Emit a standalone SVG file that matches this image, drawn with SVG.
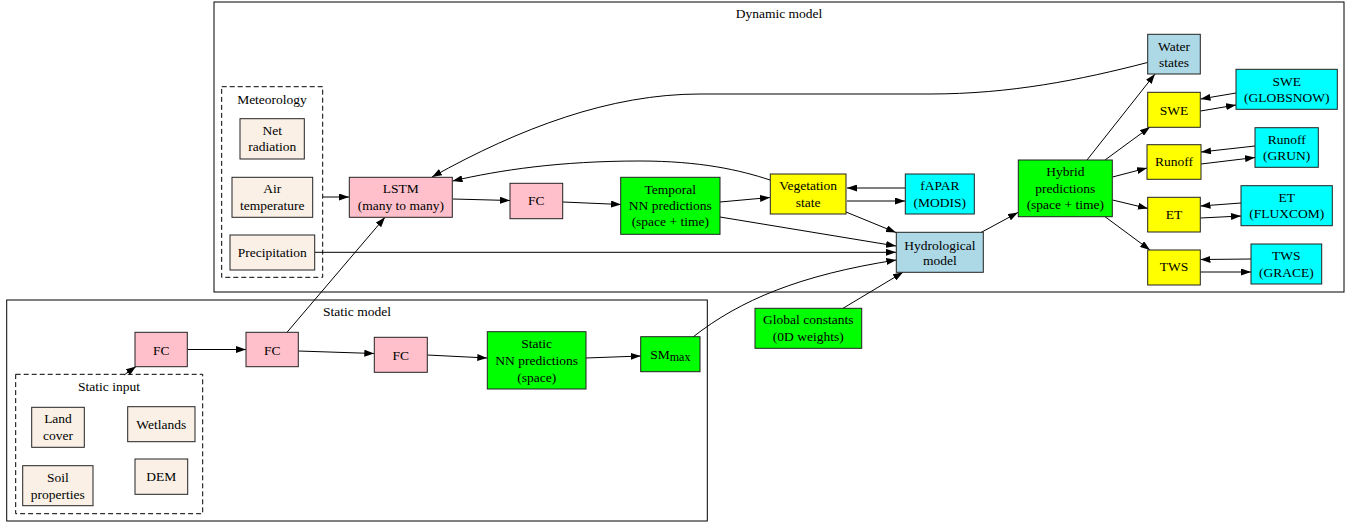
<svg xmlns="http://www.w3.org/2000/svg" width="1352" height="523" viewBox="0 0 1352 523">
<defs>
<style>
text{font-family:"Liberation Serif","Times New Roman",serif;font-size:13.5px;fill:#000;text-anchor:middle}
.n{stroke:#222;stroke-width:1}
.cl{fill:none;stroke:#000;stroke-width:1}
.dash{fill:none;stroke:#000;stroke-width:1;stroke-dasharray:5,3}
.e{fill:none;stroke:#000;stroke-width:1;marker-end:url(#ah)}
.pink{fill:#FFC0CB}.linen{fill:#FAF0E6}.lime{fill:#00FF00}.yel{fill:#FFFF00}.cyan{fill:#00FFFF}.lb{fill:#ADD8E6}
</style>
<marker id="ah" viewBox="0 0 10 7" refX="10" refY="3.5" markerWidth="10" markerHeight="7" markerUnits="userSpaceOnUse" orient="auto">
<path d="M0,0 L10,3.5 L0,7 z" fill="#000"/>
</marker>
</defs>
<rect width="1352" height="523" fill="#fff"/>

<g id="clusters">
<rect class="cl" x="214" y="2" width="1130" height="290"/>
<text x="779" y="18">Dynamic model</text>
<rect class="dash" x="221.7" y="86.7" width="101" height="190.6"/>
<text x="272" y="104">Meteorology</text>
<rect class="cl" x="6.7" y="300" width="700.6" height="221"/>
<text x="357" y="316">Static model</text>
<rect class="dash" x="15.7" y="374.3" width="187" height="139.4"/>
<text x="109" y="391">Static input</text>
</g>

<g id="connectors">
<path class="e" d="M323,197 L349,197"/>
<path class="e" d="M453,199 L510,200.5"/>
<path class="e" d="M563,202 L621,204.5"/>
<path class="e" d="M720,202 L770,197.5"/>
<path class="e" d="M720,217 L896,246"/>
<path class="e" d="M315,252.3 L896,252.3"/>
<path class="e" d="M846,212 L896,232.5"/>
<path class="e" d="M905,188 L847,188"/>
<path class="e" d="M847,201 L905,201"/>
<path class="e" d="M770,180 C740,170 700,161 640,161 C560,161 500,170 452.5,181"/>
<path class="e" d="M1147.5,62.5 C1080,80 1010,94 930,94 L700,94 C610,94 520,128 432,177"/>
<path class="e" d="M981,232.5 L1018,212.5"/>
<path class="e" d="M1087,160 L1155,74"/>
<path class="e" d="M1105,160 L1150,127"/>
<path class="e" d="M1112.5,177 L1147,168"/>
<path class="e" d="M1112.5,200 L1148,208.5"/>
<path class="e" d="M1105,216.7 L1150,250"/>
<path class="e" d="M1236,93 L1200.5,99"/>
<path class="e" d="M1200.5,111 L1236,105"/>
<path class="e" d="M1255,146 L1201,152"/>
<path class="e" d="M1201,164 L1255,157.5"/>
<path class="e" d="M1241,203 L1200.5,206"/>
<path class="e" d="M1200.5,218 L1241,216"/>
<path class="e" d="M1251,259 L1200.5,259.5"/>
<path class="e" d="M1200.5,272 L1251,272"/>
<path class="e" d="M124,375 L136,366.5"/>
<path class="e" d="M187.3,349.5 L246,349.5"/>
<path class="e" d="M298.3,351 L374.3,353.5"/>
<path class="e" d="M287,332.3 L385,217.3"/>
<path class="e" d="M427.3,355 L487.3,358"/>
<path class="e" d="M586,358 L640.7,356"/>
<path class="e" d="M693,337 C740,300 800,275 896.3,260"/>
<path class="e" d="M843,308.3 L903,272.3"/>
</g>

<g id="net_radiation"><rect class="n linen" x="240" y="118.7" width="64.3" height="40.3"/><text x="272.2" y="134.5">Net</text><text x="272.2" y="151">radiation</text></g>
<g id="air_temperature"><rect class="n linen" x="232" y="177.3" width="80.7" height="40"/><text x="272.3" y="193">Air</text><text x="272.3" y="210">temperature</text></g>
<g id="precipitation"><rect class="n linen" x="230" y="235" width="84.7" height="35"/><text x="272.3" y="257">Precipitation</text></g>
<g id="lstm"><rect class="n pink" x="349.3" y="177.3" width="103" height="40"/><text x="400.8" y="193">LSTM</text><text x="400.8" y="210">(many to many)</text></g>
<g id="fc_dyn"><rect class="n pink" x="510" y="183.3" width="52.7" height="35.4"/><text x="536.3" y="205">FC</text></g>
<g id="temporal_nn"><rect class="n lime" x="620.7" y="177.3" width="99.3" height="57"/><text x="670.3" y="194">Temporal</text><text x="670.3" y="210.2">NN predictions</text><text x="670.3" y="226.2">(space + time)</text></g>
<g id="vegetation_state"><rect class="n yel" x="770.3" y="174" width="75.7" height="40"/><text x="808.2" y="190">Vegetation</text><text x="808.2" y="206.8">state</text></g>
<g id="fapar"><rect class="n cyan" x="905.3" y="174" width="69" height="40"/><text x="939.8" y="189.5">fAPAR</text><text x="939.8" y="206.8">(MODIS)</text></g>
<g id="hydrological_model"><rect class="n lb" x="896.3" y="232.3" width="87" height="40"/><text x="939.8" y="249.5">Hydrological</text><text x="939.8" y="264.5">model</text></g>
<g id="hybrid_predictions"><rect class="n lime" x="1018.3" y="160" width="94" height="56.7"/><text x="1065.3" y="176.2">Hybrid</text><text x="1065.3" y="192.8">predictions</text><text x="1065.3" y="208.5">(space + time)</text></g>
<g id="water_states"><rect class="n lb" x="1147.7" y="34.3" width="52.6" height="39.7"/><text x="1174" y="50.5">Water</text><text x="1174" y="67.2">states</text></g>
<g id="swe"><rect class="n yel" x="1147.7" y="92.3" width="52.6" height="35"/><text x="1174" y="114.5">SWE</text></g>
<g id="runoff"><rect class="n yel" x="1147" y="144.7" width="54" height="34.6"/><text x="1174" y="166.2">Runoff</text></g>
<g id="et"><rect class="n yel" x="1147.7" y="197.3" width="52.6" height="34.7"/><text x="1174" y="218.8">ET</text></g>
<g id="tws"><rect class="n yel" x="1147.7" y="250" width="52.6" height="35"/><text x="1174" y="271.2">TWS</text></g>
<g id="swe_globsnow"><rect class="n cyan" x="1236" y="69.3" width="101.3" height="40"/><text x="1286.7" y="85.5">SWE</text><text x="1286.7" y="101.8">(GLOBSNOW)</text></g>
<g id="runoff_grun"><rect class="n cyan" x="1255" y="127.7" width="63.3" height="39.6"/><text x="1286.7" y="143.5">Runoff</text><text x="1286.7" y="159.5">(GRUN)</text></g>
<g id="et_fluxcom"><rect class="n cyan" x="1241" y="185.7" width="91.3" height="40"/><text x="1286.7" y="201.8">ET</text><text x="1286.7" y="217.8">(FLUXCOM)</text></g>
<g id="tws_grace"><rect class="n cyan" x="1251" y="244" width="70.7" height="40"/><text x="1286.3" y="260.2">TWS</text><text x="1286.3" y="276.8">(GRACE)</text></g>

<g id="fc1"><rect class="n pink" x="135" y="332.3" width="52.3" height="34.4"/><text x="161.2" y="355.2">FC</text></g>
<g id="fc2"><rect class="n pink" x="246" y="332.3" width="52.3" height="34.4"/><text x="272.2" y="355.2">FC</text></g>
<g id="fc3"><rect class="n pink" x="374.3" y="337.3" width="53" height="35"/><text x="400.8" y="359.5">FC</text></g>
<g id="static_nn"><rect class="n lime" x="487.3" y="331.7" width="98.7" height="57.3"/><text x="536.7" y="347.8">Static</text><text x="536.7" y="364.5">NN predictions</text><text x="536.7" y="381.8">(space)</text></g>
<g id="sm_max"><rect class="n lime" x="640.7" y="336.7" width="59.3" height="35"/><text x="670.3" y="358.8">SM<tspan font-size="12" dy="2.5">max</tspan></text></g>
<g id="global_constants"><rect class="n lime" x="755" y="308.3" width="106.7" height="40"/><text x="808.3" y="323.8">Global constants</text><text x="808.3" y="341.2">(0D weights)</text></g>
<g id="land_cover"><rect class="n linen" x="31.7" y="407.3" width="52.6" height="40"/><text x="58" y="422.8">Land</text><text x="58" y="440.2">cover</text></g>
<g id="wetlands"><rect class="n linen" x="127.7" y="406.7" width="67.3" height="35"/><text x="161.3" y="428.8">Wetlands</text></g>
<g id="soil_properties"><rect class="n linen" x="22.7" y="465.7" width="70.3" height="40"/><text x="57.8" y="481.8">Soil</text><text x="57.8" y="498.5">properties</text></g>
<g id="dem"><rect class="n linen" x="135" y="459" width="52.7" height="35.3"/><text x="161.3" y="481.2">DEM</text></g>
</svg>
